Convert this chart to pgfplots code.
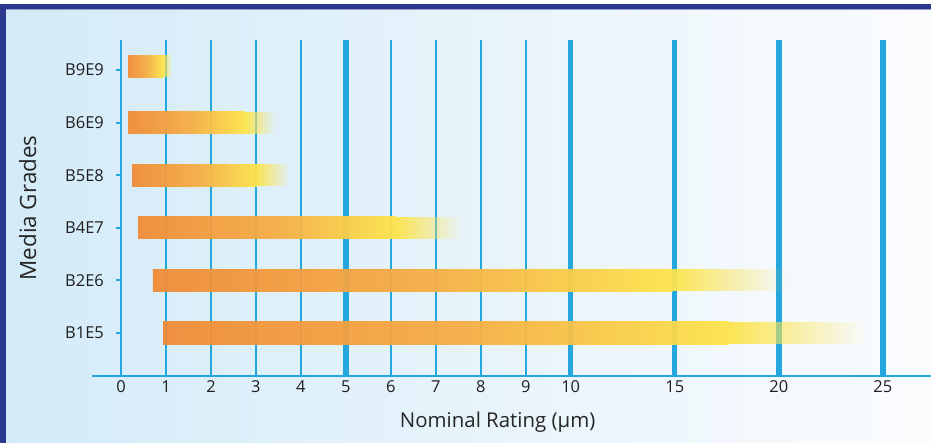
\documentclass[border=0pt]{standalone}
\usepackage{pgfplots}
\pgfplotsset{compat=1.18}
\usepackage{fontspec}
\setmainfont{Open Sans}
\usetikzlibrary{fadings}
\definecolor{gridblue}{RGB}{35,167,222}
\definecolor{navy}{RGB}{43,57,143}
\definecolor{bgleft}{RGB}{211,235,248}
\definecolor{bgright}{RGB}{251,252,254}
\definecolor{barorange}{RGB}{241,140,55}
\definecolor{barmid}{RGB}{246,174,68}
\definecolor{baryellow}{RGB}{253,228,75}
% TikZ fits the central 25bp--75bp of a shading to the path
\pgfdeclarehorizontalshading{barshade}{100bp}{color(0bp)=(barorange); color(25bp)=(barorange); color(52bp)=(barmid); color(75bp)=(baryellow); color(100bp)=(baryellow)}
\pgfplotsset{
  barbody/.style={draw=none, shade, shading=barshade, fill opacity=0.95},
  barfade/.style={draw=none, fill=baryellow, path fading=east, fill opacity=0.95},
}
\begin{document}
\begin{tikzpicture}
\fill[white] (0,0) rectangle (931bp,443bp);
\shade[left color=bgleft, right color=bgright] (6bp,0) rectangle (931bp,434bp);
\fill[navy] (0,0) rectangle (6bp,439bp);
\fill[navy] (0,434bp) rectangle (931bp,439bp);
\draw[color=navy!50!white, line width=0.8bp] (6bp,433.6bp) -- (931bp,433.6bp);
\begin{axis}[
  at={(121bp,67bp)}, anchor=south west,
  scale only axis, width=810bp, height=336bp,
  x coord trafo/.code={\pgfmathparse{(#1<=10)*(#1) + (#1>10)*(10+((#1)-10)*0.4625)}},
  xmin=0, xmax=27.32,
  ymin=0.182, ymax=6.57,
  axis x line=bottom, axis y line=left,
  axis line style={-, line width=2bp, color=gridblue},
  x axis line style={shorten <=-29bp},
  xtick={0,1,2,3,4,5,6,7,8,9,10,15,20,25},
  xticklabels={0,1,2,3,4,5,6,7,8,9,10,15,20,25},
  xtick style={draw=none},
  xmajorgrids=true,
  major x grid style={line width=2bp, color=gridblue},
  extra x ticks={5,10,15,20,25},
  extra x tick labels={},
  extra x tick style={major x grid style={line width=5.5bp, color=gridblue}, xtick style={draw=none}},
  ytick={1,2,3,4,5,6},
  yticklabels={B1E5,B2E6,B4E7,B5E8,B6E9,B9E9},
  ytick align=outside,
  major tick length=5bp,
  ytick style={line width=2bp, color=gridblue},
  /pgf/number format/assume math mode=true,
  ticklabel style={font=\fontsize{16.5}{19}\selectfont, text=black!88},
  xticklabel style={anchor=north, inner sep=1bp, yshift=-1bp},
  yticklabel style={anchor=east, inner sep=0bp, xshift=-12bp},
  xlabel={Nominal Rating (µm)},
  ylabel={Media Grades},
  xlabel style={font=\fontsize{20.5}{24}\selectfont, text=black!85, at={(axis description cs:0.465,-0.137)}, anchor=center},
  ylabel style={font=\fontsize{22.5}{26}\selectfont, text=black!85, at={(axis description cs:-0.115,0.50)}, anchor=center},
]
% each bar: solid body (start -> where the fade begins), then fading tail (-> end); values in um
% B9E9: 0.156 / 0.93 / 1.13
\addplot[barbody] coordinates {(0.156,5.86)(0.93,5.86)(0.93,6.28)(0.156,6.28)} -- cycle;
\addplot[barfade] coordinates {(0.93,5.86)(1.13,5.86)(1.13,6.28)(0.93,6.28)} -- cycle;
% B6E9: 0.156 / 2.76 / 3.42
\addplot[barbody] coordinates {(0.156,4.79)(2.76,4.79)(2.76,5.21)(0.156,5.21)} -- cycle;
\addplot[barfade] coordinates {(2.76,4.79)(3.42,4.79)(3.42,5.21)(2.76,5.21)} -- cycle;
% B5E8: 0.245 / 3.02 / 3.74
\addplot[barbody] coordinates {(0.245,3.79)(3.02,3.79)(3.02,4.21)(0.245,4.21)} -- cycle;
\addplot[barfade] coordinates {(3.02,3.79)(3.74,3.79)(3.74,4.21)(3.02,4.21)} -- cycle;
% B4E7: 0.378 / 6.13 / 7.58
\addplot[barbody] coordinates {(0.378,2.79)(6.13,2.79)(6.13,3.21)(0.378,3.21)} -- cycle;
\addplot[barfade] coordinates {(6.13,2.79)(7.58,2.79)(7.58,3.21)(6.13,3.21)} -- cycle;
% B2E6: 0.71 / 14.9 / 20.38
\addplot[barbody] coordinates {(0.71,1.79)(14.9,1.79)(14.9,2.21)(0.71,2.21)} -- cycle;
\addplot[barfade] coordinates {(14.9,1.79)(20.38,1.79)(20.38,2.21)(14.9,2.21)} -- cycle;
% B1E5: 0.934 / 17.6 / 24.18
\addplot[barbody] coordinates {(0.934,0.79)(17.6,0.79)(17.6,1.21)(0.934,1.21)} -- cycle;
\addplot[barfade] coordinates {(17.6,0.79)(24.18,0.79)(24.18,1.21)(17.6,1.21)} -- cycle;
\end{axis}
\pgfresetboundingbox
\useasboundingbox (0,0) rectangle (931bp,443bp);
\end{tikzpicture}
\end{document}
